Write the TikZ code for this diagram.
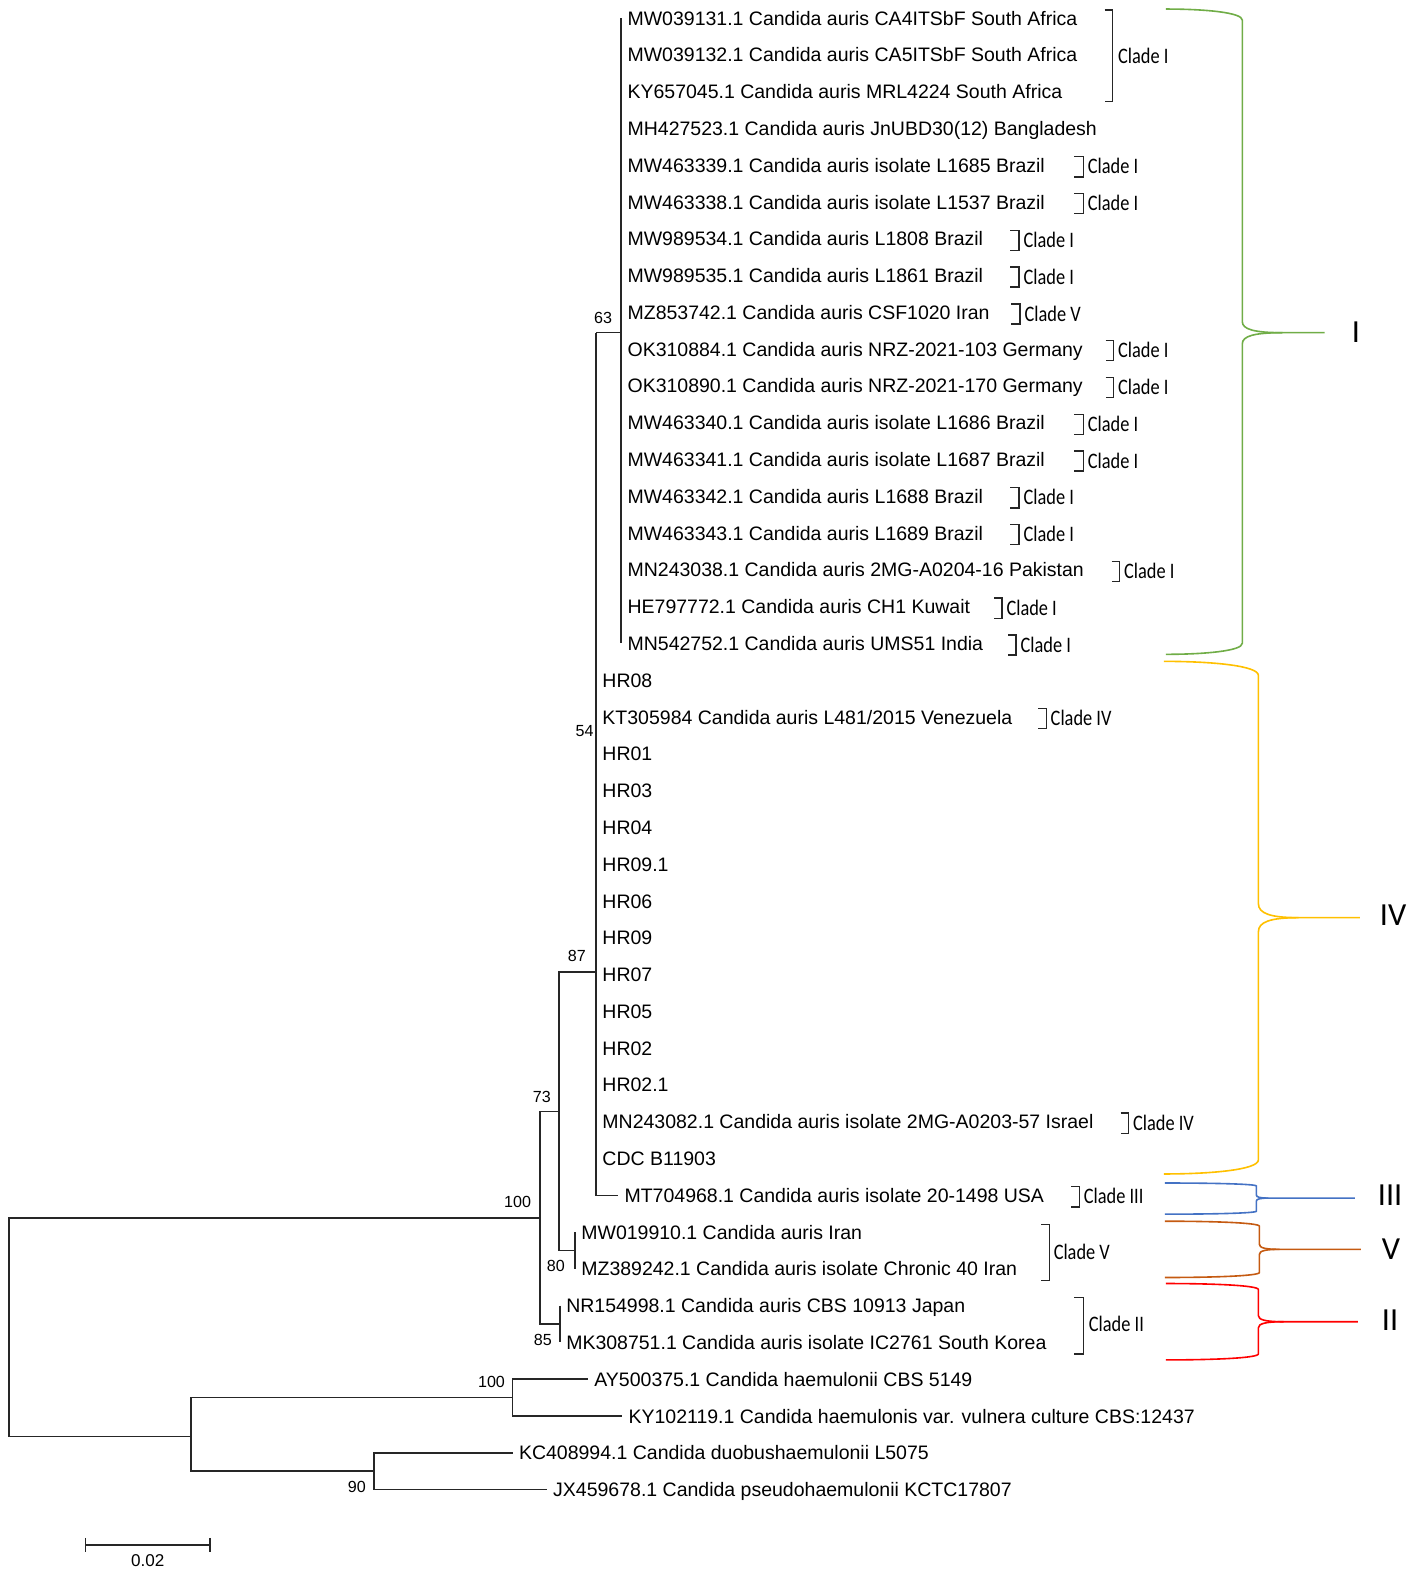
\documentclass[tikz,border=0pt]{standalone}
\usepackage{fontspec}
\setmainfont{Liberation Sans}
\newfontfamily\cladefont[FakeStretch=0.83]{Carlito}
\newfontfamily\romfont{Carlito}
\definecolor{bgreen}{HTML}{70AD47}
\definecolor{byellow}{HTML}{FFC000}
\definecolor{bblue}{HTML}{4472C4}
\definecolor{borange}{HTML}{C55A11}
\definecolor{bred}{HTML}{FF0000}
\tikzset{
  br/.style={line width=0.75pt, black!85},
  tip/.style={anchor=west, inner xsep=3pt, inner ysep=0pt, text height=7pt, text depth=0pt, font=\fontsize{9.7}{11}\selectfont},
  boot/.style={inner sep=0pt, font=\fontsize{8}{9}\selectfont},
  cl/.style={anchor=west, inner sep=0pt, text height=7.1pt, text depth=0pt, font=\cladefont\fontsize{11}{12}\selectfont},
  brk/.style={line width=0.7pt, black!85},
  cbr/.style={line width=0.8pt},
  rom/.style={inner sep=0pt, font=\romfont\fontsize{16}{18}\selectfont},
}
% small bracket: x1 x2 y text name
\newcommand\sbr[5]{%
  \draw[brk] (#1,{#3-8.5}) -- (#2,{#3-8.5}) -- (#2,{#3+11.5}) -- (#1,{#3+11.5});
  \node[cl] (#5) at ({#2+4},{#3+1.5}) {#4};
}
% coloured brace: colour xs xv xt ytop ymid ybot r ; tip curve width fixed by \bw
\newcommand\cbrace[8]{%
  \draw[cbr,#1] (#2,#5) .. controls ({#3-0.5*(#3-#2)},#5) and (#3,{#5+0.3*#8}) .. (#3,{#5+#8})
    -- (#3,{#6-#8}) .. controls (#3,{#6-0.3*#8}) and ({#3+0.3*\bw},#6) .. ({#3+\bw},#6) -- (#4,#6);
  \draw[cbr,#1] (#2,#7) .. controls ({#3-0.5*(#3-#2)},#7) and (#3,{#7-0.3*#8}) .. (#3,{#7-#8})
    -- (#3,{#6+#8}) .. controls (#3,{#6+0.3*#8}) and ({#3+0.3*\bw},#6) .. ({#3+\bw},#6);
}
\begin{document}
\begin{tikzpicture}[x=0.5pt,y=-0.5pt]
\useasboundingbox (0,0) rectangle (1410,1568);

% ---- tips ----
\node[tip] (t1) at (618,18.0) {MW039131.1 Candida auris CA4ITSbF South Africa};
\node[tip] (t2) at (618,54.6) {MW039132.1 Candida auris CA5ITSbF South Africa};
\node[tip] (t3) at (618,91.2) {KY657045.1 Candida auris MRL4224 South Africa};
\node[tip] (t4) at (618,127.8) {MH427523.1 Candida auris JnUBD30(12) Bangladesh};
\node[tip] (t5) at (618,164.4) {MW463339.1 Candida auris isolate L1685 Brazil};
\node[tip] (t6) at (618,201.0) {MW463338.1 Candida auris isolate L1537 Brazil};
\node[tip] (t7) at (618,237.6) {MW989534.1 Candida auris L1808 Brazil};
\node[tip] (t8) at (618,274.2) {MW989535.1 Candida auris L1861 Brazil};
\node[tip] (t9) at (618,310.8) {MZ853742.1 Candida auris CSF1020 Iran};
\node[tip] (t10) at (618,347.4) {OK310884.1 Candida auris NRZ-2021-103 Germany};
\node[tip] (t11) at (618,384.0) {OK310890.1 Candida auris NRZ-2021-170 Germany};
\node[tip] (t12) at (618,420.6) {MW463340.1 Candida auris isolate L1686 Brazil};
\node[tip] (t13) at (618,457.2) {MW463341.1 Candida auris isolate L1687 Brazil};
\node[tip] (t14) at (618,493.8) {MW463342.1 Candida auris L1688 Brazil};
\node[tip] (t15) at (618,530.4) {MW463343.1 Candida auris L1689 Brazil};
\node[tip] (t16) at (618,567.0) {MN243038.1 Candida auris 2MG-A0204-16 Pakistan};
\node[tip] (t17) at (618,603.6) {HE797772.1 Candida auris CH1 Kuwait};
\node[tip] (t18) at (618,640.2) {MN542752.1 Candida auris UMS51 India};
\node[tip] (t19) at (593,676.8) {HR08};
\node[tip] (t20) at (593,713.4) {KT305984 Candida auris L481/2015 Venezuela};
\node[tip] (t21) at (593,750.0) {HR01};
\node[tip] (t22) at (593,786.6) {HR03};
\node[tip] (t23) at (593,823.2) {HR04};
\node[tip] (t24) at (593,859.8) {HR09.1};
\node[tip] (t25) at (593,896.4) {HR06};
\node[tip] (t26) at (593,933.0) {HR09};
\node[tip] (t27) at (593,969.6) {HR07};
\node[tip] (t28) at (593,1006.2) {HR05};
\node[tip] (t29) at (593,1042.8) {HR02};
\node[tip] (t30) at (593,1079.4) {HR02.1};
\node[tip] (t31) at (593,1116.0) {MN243082.1 Candida auris isolate 2MG-A0203-57 Israel};
\node[tip] (t32) at (593,1152.6) {CDC B11903};
\node[tip] (t33) at (615,1189.2) {MT704968.1 Candida auris isolate 20-1498 USA};
\node[tip] (t34) at (572,1225.8) {MW019910.1 Candida auris Iran};
\node[tip] (t35) at (572,1262.4) {MZ389242.1 Candida auris isolate Chronic 40 Iran};
\node[tip] (t36) at (557,1299.0) {NR154998.1 Candida auris CBS 10913 Japan};
\node[tip] (t37) at (557,1335.6) {MK308751.1 Candida auris isolate IC2761 South Korea};
\node[tip] (t38) at (585,1372.2) {AY500375.1 Candida haemulonii CBS 5149};
\node[tip] (t39) at (619,1408.8) {KY102119.1 Candida haemulonis var. vulnera culture CBS:12437};
\node[tip] (t40) at (510,1445.4) {KC408994.1 Candida duobushaemulonii L5075};
\node[tip] (t41) at (544,1482.0) {JX459678.1 Candida pseudohaemulonii KCTC17807};

% ---- internal nodes ----
\coordinate (c63) at (618,331);
\coordinate (c54) at (593,331);
\coordinate (c87) at (593,967);
\coordinate (c73) at (556,1106);
\coordinate (c80) at (572,1244);
\coordinate (c100) at (537,1212);
\coordinate (c85) at (557,1317.3);
\coordinate (croot) at (9,1212);
\coordinate (cout) at (190,1429);
\coordinate (chae) at (510,1390.5);
\coordinate (c90) at (372,1463.7);

% ---- branches ----
\draw[br] (t1.west) -- (t18.west);
\draw[br] (c54) -- (c63);
\draw[br] (c54) |- (t33.west);
\draw[br] (c87) -| (c73);
\draw[br] (c73) |- (c80);
\draw[br] (t34.west) -- (t35.west);
\draw[br] (c73) -| (c100);
\draw[br] (c100) |- (c85);
\draw[br] (t36.west) -- (t37.west);
\draw[br] (c100) -- (croot) |- (cout);
\draw[br] (chae) -| (cout) |- (c90);
\draw[br] (t38.west) -| (chae) |- (t39.west);
\draw[br] (t40.west) -| (c90) |- (t41.west);

% ---- bootstrap values ----
\node[boot] (b63) at (600,316) {63};
\node[boot,anchor=east] (b54) at (591,727) {54};
\node[boot] (b87) at (574,951) {87};
\node[boot] (b73) at (539,1091) {73};
\node[boot] (b100) at (515,1196) {100};
\node[boot] (b80) at (553,1260) {80};
\node[boot] (b85) at (540,1333) {85};
\node[boot] (b100b) at (489,1375) {100};
\node[boot] (b90) at (355,1479) {90};

% ---- scale bar ----
\draw[br] (85,1537) -- (209,1537);
\draw[br] (85,1530) -- (85,1544);
\draw[br] (209,1530) -- (209,1544);
\node[boot,font=\fontsize{8.5}{9}\selectfont] (scale) at (147,1553) {0.02};

% ---- clade brackets ----
\draw[brk] (1099,10) -- (1107,10) -- (1107,101) -- (1099,101);
\node[cl] (k1) at (1112,56) {Clade I};
\sbr{1069}{1078}{164.4}{Clade I}{k5}
\sbr{1069}{1078}{201.0}{Clade I}{k6}
\sbr{1005}{1014}{237.6}{Clade I}{k7}
\sbr{1005}{1014}{274.2}{Clade I}{k8}
\sbr{1006}{1015}{310.8}{Clade V}{k9}
\sbr{1100}{1108}{347.4}{Clade I}{k10}
\sbr{1100}{1108}{384.0}{Clade I}{k11}
\sbr{1069}{1078}{420.6}{Clade I}{k12}
\sbr{1069}{1078}{457.2}{Clade I}{k13}
\sbr{1005}{1014}{493.8}{Clade I}{k14}
\sbr{1005}{1014}{530.4}{Clade I}{k15}
\sbr{1106}{1114}{567.0}{Clade I}{k16}
\sbr{989}{997}{603.6}{Clade I}{k17}
\sbr{1003}{1011}{640.2}{Clade I}{k18}
\sbr{1033}{1041}{713.4}{Clade IV}{k20}
\sbr{1115}{1123}{1116.0}{Clade IV}{k31}
\sbr{1066}{1074}{1189.2}{Clade III}{k33}
\draw[brk] (1036,1218) -- (1044,1218) -- (1044,1274) -- (1036,1274);
\node[cl] (k34) at (1048,1246) {Clade V};
\draw[brk] (1069,1291) -- (1078,1291) -- (1078,1347) -- (1069,1347);
\node[cl] (k36) at (1083,1318) {Clade II};

% ---- coloured braces ----
\def\bw{40}
\cbrace{bgreen}{1160}{1236}{1318}{9}{331}{651}{11}
\cbrace{byellow}{1158}{1252}{1353}{658}{913}{1168}{14}
\def\bw{12}
\cbrace{bblue}{1159}{1250}{1348}{1177}{1192}{1208}{3}
\def\bw{20}
\cbrace{borange}{1159}{1253}{1354}{1215}{1243}{1271}{5}
\def\bw{25}
\cbrace{bred}{1160}{1252}{1351}{1277}{1315}{1353}{6}

% ---- clade numerals ----
\node[rom] (rI) at (1349,330) {I};
\node[rom] (rIV) at (1386,911) {IV};
\node[rom] (rIII) at (1383,1189) {III};
\node[rom] (rV) at (1384,1243) {V};
\node[rom] (rII) at (1383,1313) {II};
\end{tikzpicture}
\end{document}
